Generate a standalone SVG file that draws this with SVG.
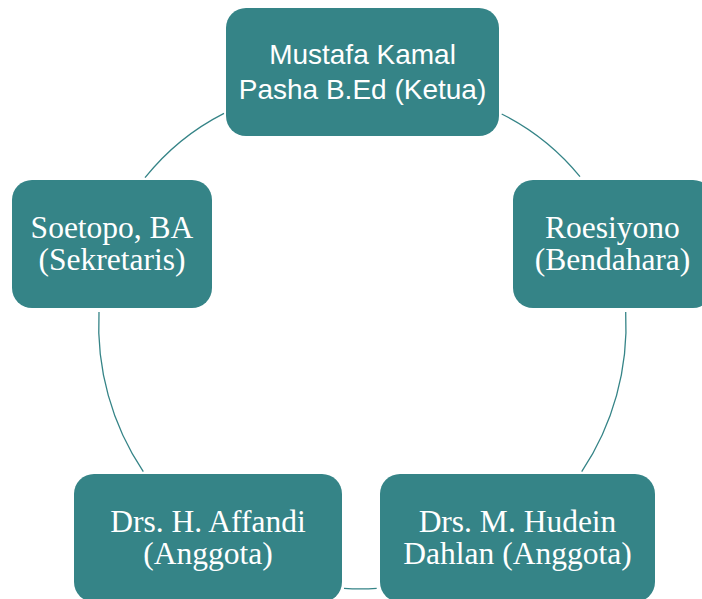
<svg xmlns="http://www.w3.org/2000/svg" width="702" height="599" viewBox="0 0 702 599">
<style>
.node{fill:#358487;}
.sans{font-family:"Liberation Sans",Arial,sans-serif;font-size:28px;fill:#ffffff;text-anchor:middle;}
.serif{font-family:"Liberation Serif","Times New Roman",serif;font-size:31.5px;fill:#ffffff;text-anchor:middle;}
.arc{fill:none;stroke:#358487;stroke-width:1.3;}
</style>
<rect width="702" height="599" fill="#ffffff"/>
<g id="connectors">
<path class="arc" d="M501.7,114 A240,240 0 0 1 580,176.7"/>
<path class="arc" d="M625.7,312 A263.5,263.5 0 0 1 581.7,471.7"/>
<path class="arc" d="M376.7,588.3 A263.5,263.5 0 0 1 344,588.3"/>
<path class="arc" d="M143.3,471.7 A263.5,263.5 0 0 1 99,312"/>
<path class="arc" d="M145,177.7 A240,240 0 0 1 224,113.3"/>
</g>
<g id="node-ketua">
<rect class="node" x="226" y="8" width="273" height="128" rx="20"/>
<text class="sans" x="362.5" y="64">Mustafa Kamal</text>
<text class="sans" x="362.5" y="99">Pasha B.Ed (Ketua)</text>
</g>
<g id="node-bendahara">
<rect class="node" x="513" y="180" width="200" height="128" rx="20"/>
<text class="serif" x="612.5" y="238">Roesiyono</text>
<text class="serif" x="612.5" y="270">(Bendahara)</text>
</g>
<g id="node-hudein">
<rect class="node" x="380" y="474" width="275" height="128" rx="20"/>
<text class="serif" x="517.5" y="532">Drs. M. Hudein</text>
<text class="serif" x="517.5" y="564">Dahlan (Anggota)</text>
</g>
<g id="node-affandi">
<rect class="node" x="74" y="474" width="268" height="128" rx="20"/>
<text class="serif" x="208" y="532">Drs. H. Affandi</text>
<text class="serif" x="208" y="564">(Anggota)</text>
</g>
<g id="node-sekretaris">
<rect class="node" x="12" y="180" width="200" height="128" rx="20"/>
<text class="serif" x="112" y="238">Soetopo, BA</text>
<text class="serif" x="112" y="270">(Sekretaris)</text>
</g>
</svg>
